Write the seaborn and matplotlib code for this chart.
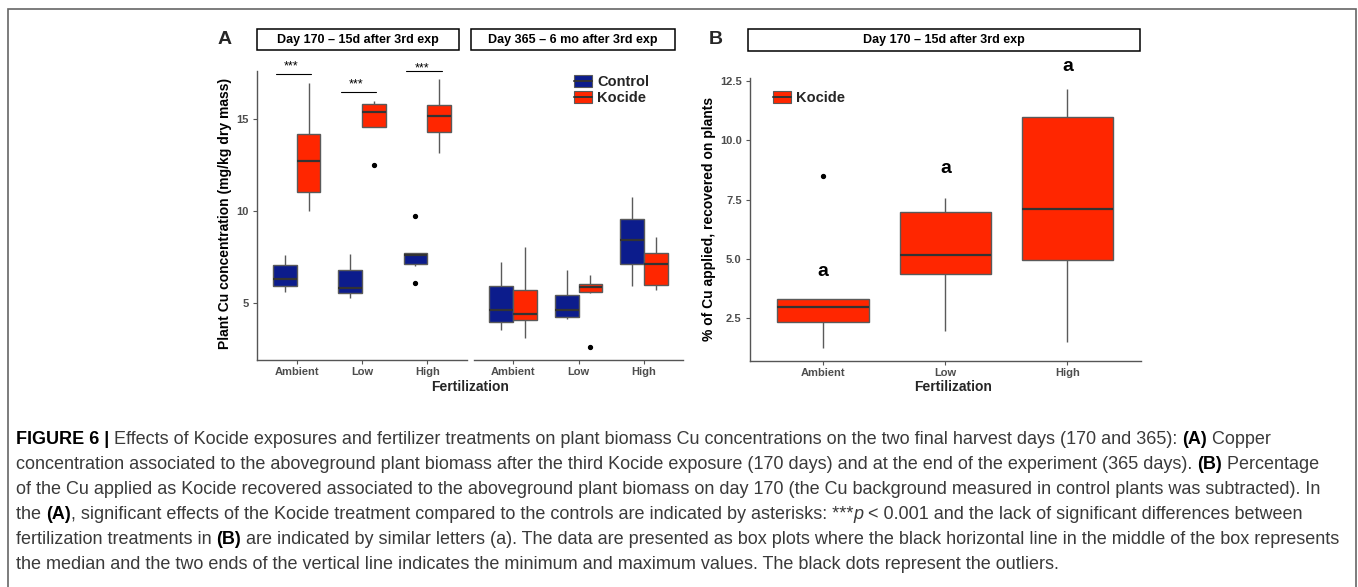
import numpy as np
import pandas as pd
import matplotlib
matplotlib.use("Agg")
import matplotlib.pyplot as plt
import seaborn as sns
from matplotlib.patches import Patch, Rectangle
from matplotlib.lines import Line2D

# ---------------- data ----------------
fert = ["Ambient", "Low", "High"]
treatments = ["Control", "Kocide"]

day170_control = [
    [5.63, 5.95, 6.33, 7.06, 7.62],
    [5.27, 5.57, 5.83, 6.80, 7.67],
    [6.08, 7.04, 7.13, 7.40, 7.60, 7.70, 7.71, 7.71, 9.73],
]
day170_kocide = [
    [10.01, 11.03, 12.70, 14.18, 16.94],
    [12.50, 14.53, 14.53, 15.00, 15.39, 15.60, 15.79, 15.90, 15.95],
    [13.15, 14.27, 15.16, 15.72, 17.16],
]
day365_control = [
    [3.55, 4.00, 4.64, 5.95, 7.25],
    [4.13, 4.24, 4.64, 5.43, 6.80],
    [5.95, 7.13, 8.43, 9.56, 10.77],
]
day365_kocide = [
    [3.10, 4.10, 4.42, 5.72, 8.03],
    [2.65, 5.54, 5.63, 5.75, 5.87, 5.95, 6.04, 6.30, 6.53],
    [5.72, 6.01, 7.13, 7.74, 8.61],
]
recovered_kocide = [
    [1.24, 2.00, 2.36, 2.70, 2.96, 3.20, 3.33, 3.33, 8.50],
    [1.98, 4.35, 5.17, 6.98, 7.56],
    [1.51, 4.94, 7.12, 10.99, 12.16],
]

strip_a1 = "Day 170 \u2013 15d after 3rd exp"
strip_a2 = "Day 365 \u2013 6 mo after 3rd exp"
strip_b = "Day 170 \u2013 15d after 3rd exp"
ylabel_a = "Plant Cu concentration (mg/kg dry mass)"
ylabel_b = "% of Cu applied, recovered on plants"
xlabel = "Fertilization"
yticks_a = [5, 10, 15]
yticks_b = [2.5, 5.0, 7.5, 10.0, 12.5]

sig_text = "***"
sig_line_y = [17.40, 16.46, 17.56]
sig_star_y = [17.84, 16.88, 17.71]
letters_b = ["a", "a", "a"]
letters_b_y = [4.48, 8.83, 13.11]

caption_lines = [
    [("FIGURE 6 |", "bold", "normal"),
     (" Effects of Kocide exposures and fertilizer treatments on plant biomass Cu concentrations on the two final harvest days (170 and 365): ", "normal", "normal"),
     ("(A)", "bold", "normal"), (" Copper", "normal", "normal")],
    [("concentration associated to the aboveground plant biomass after the third Kocide exposure (170 days) and at the end of the experiment (365 days). ", "normal", "normal"),
     ("(B)", "bold", "normal"), (" Percentage", "normal", "normal")],
    [("of the Cu applied as Kocide recovered associated to the aboveground plant biomass on day 170 (the Cu background measured in control plants was subtracted). In", "normal", "normal")],
    [("the ", "normal", "normal"), ("(A)", "bold", "normal"),
     (", significant effects of the Kocide treatment compared to the controls are indicated by asterisks: ***", "normal", "normal"),
     ("p", "normal", "italic"),
     (" < 0.001 and the lack of significant differences between", "normal", "normal")],
    [("fertilization treatments in ", "normal", "normal"), ("(B)", "bold", "normal"),
     (" are indicated by similar letters (a). The data are presented as box plots where the black horizontal line in the middle of the box represents", "normal", "normal")],
    [("the median and the two ends of the vertical line indicates the minimum and maximum values. The black dots represent the outliers.", "normal", "normal")],
]


def to_long(groups, treat, day):
    rows = []
    for f, vals in zip(fert, groups):
        for v in vals:
            rows.append({"day": day, "fert": f, "treat": treat, "value": v})
    return rows


df_a = pd.DataFrame(to_long(day170_control, "Control", 170) + to_long(day170_kocide, "Kocide", 170)
                    + to_long(day365_control, "Control", 365) + to_long(day365_kocide, "Kocide", 365))
df_b = pd.DataFrame(to_long(recovered_kocide, "Kocide", 170))

# ---------------- style ----------------
sns.set_style("ticks")
plt.rcParams["font.family"] = ["Liberation Sans", "DejaVu Sans"]

BLUE = "#0c1c8c"
RED = "#ff2600"
EDGE = "#5a5a5a"
MED = "#333333"
AXC = "#555555"
TXT = "#4d4d4d"
palette = {"Control": BLUE, "Kocide": RED}

W, H = 1358, 587
fig = plt.figure(figsize=(W / 100, H / 100), dpi=100)


def add_axes_px(x0, y0, x1, y1):
    return fig.add_axes([x0 / W, 1 - y1 / H, (x1 - x0) / W, (y1 - y0) / H])


def fy(y):
    return 1 - y / H


box_kw = dict(gap=0, linecolor=EDGE, linewidth=1.0, saturation=1, legend=False,
              flierprops=dict(marker="o", markerfacecolor="black", markeredgecolor="black", markersize=2.8),
              medianprops=dict(color=MED, linewidth=1.6),
              whiskerprops=dict(color=EDGE, linewidth=1.0),
              showcaps=False)


def style_axes(ax, show_y=True):
    for s in ["top", "right"]:
        ax.spines[s].set_visible(False)
    for s in ["left", "bottom"]:
        ax.spines[s].set_color(AXC)
        ax.spines[s].set_linewidth(1.0)
    ax.tick_params(colors=AXC, length=3, width=0.8, labelsize=8, labelcolor=TXT, pad=2)
    for lab in ax.get_xticklabels() + ax.get_yticklabels():
        lab.set_fontweight("bold")
    if not show_y:
        ax.spines["left"].set_visible(False)
        ax.tick_params(left=False, labelleft=False)
    ax.set_xlabel("")
    ax.set_ylabel("")
    ax.set_facecolor("white")


# ---------------- Panel A ----------------
axA1 = add_axes_px(257.3, 70.7, 466.7, 360)
axA2 = add_axes_px(474, 70.7, 683, 360)
for ax, day in [(axA1, 170), (axA2, 365)]:
    sns.boxplot(data=df_a[df_a.day == day], x="fert", y="value", hue="treat",
                order=fert, hue_order=treatments, palette=palette, width=0.73,
                dodge=True, ax=ax, **box_kw)
    ax.set_xlim(-0.6, 2.6)
    ax.set_ylim(1.93, 17.6)
    ax.set_yticks(yticks_a)
    ax.set_yticklabels([str(t) for t in yticks_a])
style_axes(axA1, True)
style_axes(axA2, False)
axA1.tick_params(axis="y", pad=3)

for i in range(3):
    axA1.plot([i - 0.32, i + 0.22], [sig_line_y[i]] * 2, color="black", lw=0.8, clip_on=False)
    axA1.text(i - 0.09, sig_star_y[i], sig_text, ha="center", va="center", fontsize=9,
              color="black", clip_on=False)

handles = [(Patch(facecolor=palette[t], edgecolor=EDGE, linewidth=0.8),
            Line2D([], [], color=MED, lw=1.4)) for t in treatments]
fig.legend(handles, treatments, loc="upper left", bbox_to_anchor=(574 / W, fy(75)),
           frameon=False, prop=dict(weight="bold", size=10.5), handlelength=1.25,
           handleheight=0.85, handletextpad=0.35, labelspacing=0.15, borderpad=0,
           borderaxespad=0)

# ---------------- Panel B ----------------
axB = add_axes_px(750, 78.3, 1140.7, 360.7)
sns.boxplot(data=df_b, x="fert", y="value", order=fert, color=RED, width=0.75, ax=axB, **box_kw)
axB.set_xlim(-0.6, 2.6)
axB.set_ylim(0.71, 12.61)
axB.set_yticks(yticks_b)
axB.set_yticklabels([f"{t:.1f}" for t in yticks_b])
style_axes(axB, True)
axB.tick_params(axis="y", pad=3)
for i in range(3):
    axB.text(i, letters_b_y[i], letters_b[i], ha="center", va="center", fontsize=14,
             fontweight="bold", color="black", clip_on=False)
hb = [(Patch(facecolor=RED, edgecolor=EDGE, linewidth=0.8), Line2D([], [], color=MED, lw=1.4))]
fig.legend(hb, ["Kocide"], loc="upper left", bbox_to_anchor=(773 / W, fy(91)),
           frameon=False, prop=dict(weight="bold", size=10.5), handlelength=1.25,
           handleheight=0.85, handletextpad=0.35, borderpad=0, borderaxespad=0)

# ---------------- strips, labels ----------------
for (x0, x1, y0, y1, label) in [(256.7, 459.3, 29.3, 50.0, strip_a1),
                                 (470.7, 674.7, 29.3, 50.0, strip_a2),
                                 (747.7, 1140.0, 29.3, 50.7, strip_b)]:
    fig.add_artist(Rectangle((x0 / W, fy(y1)), (x1 - x0) / W, (y1 - y0) / H,
                             transform=fig.transFigure, facecolor="white",
                             edgecolor="black", linewidth=1.1))
    fig.text((x0 + x1) / 2 / W, fy((y0 + y1) / 2), label, ha="center", va="center",
             fontsize=9, fontweight="bold", color="black")

fig.text(225 / W, fy(40), "A", ha="center", va="center", fontsize=14, fontweight="bold")
fig.text(716 / W, fy(40), "B", ha="center", va="center", fontsize=14, fontweight="bold")
fig.text(225 / W, fy(213), ylabel_a, rotation=90, ha="center", va="center", fontsize=10,
         fontweight="bold", color="black")
fig.text(709 / W, fy(219), ylabel_b, rotation=90, ha="center", va="center", fontsize=10,
         fontweight="bold", color="black")
fig.text(470 / W, fy(387), xlabel, ha="center", va="center", fontsize=10, fontweight="bold")
fig.text(953 / W, fy(387), xlabel, ha="center", va="center", fontsize=10, fontweight="bold")

# outer frame
fig.add_artist(Rectangle((8 / W, fy(600)), (1356 - 8) / W, (600 - 9) / H,
                         transform=fig.transFigure, facecolor="none",
                         edgecolor="#666666", linewidth=1.2))

# ---------------- caption ----------------
renderer = fig.canvas.get_renderer()


def adv(s, size, weight, style):
    t1 = fig.text(0, 0, s + "x", fontsize=size, fontweight=weight, fontstyle=style)
    t2 = fig.text(0, 0, "x", fontsize=size, fontweight=weight, fontstyle=style)
    w = t1.get_window_extent(renderer).width - t2.get_window_extent(renderer).width
    t1.remove()
    t2.remove()
    return w


ref_size = 10.0
line5_w = sum(adv(s, ref_size, w, st) for s, w, st in caption_lines[4])
cap_size = ref_size * (1340 - 16) / line5_w
cap_x0 = 16
cap_base = [444, 469, 494, 519, 544, 569]
for segs, yb in zip(caption_lines, cap_base):
    x = cap_x0
    for s, w, st in segs:
        col = "black" if w == "bold" else "#3a3a3a"
        fig.text(x / W, fy(yb), s, fontsize=cap_size, fontweight=w, fontstyle=st,
                 color=col, va="baseline", ha="left")
        x += adv(s, cap_size, w, st)

fig.savefig("out.png", dpi=100, facecolor="white")
